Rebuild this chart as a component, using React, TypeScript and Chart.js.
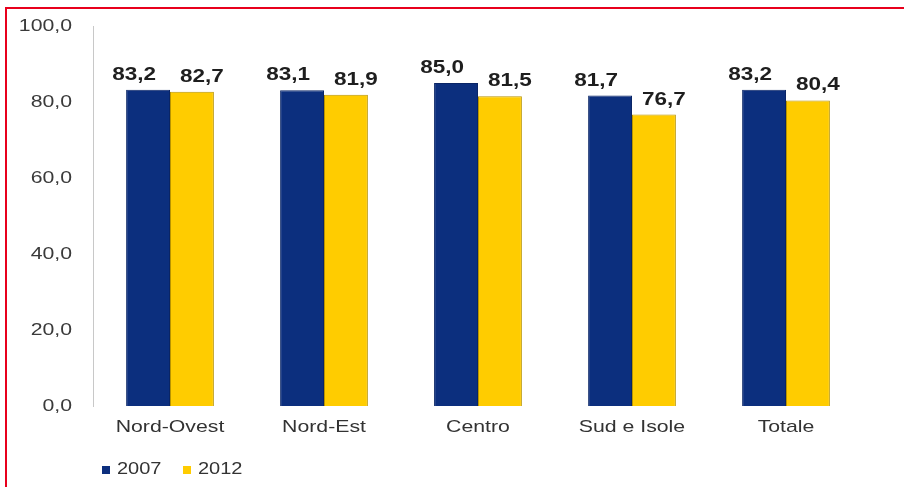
import React, { useEffect, useRef } from "react";
import { Chart, registerables } from "chart.js";

Chart.register(...registerables);

const categories = ["Nord-Ovest", "Nord-Est", "Centro", "Sud e Isole", "Totale"];
const series2007 = [83.2, 83.1, 85.0, 81.7, 83.2];
const series2012 = [82.7, 81.9, 81.5, 76.7, 80.4];
const seriesNames = ["2007", "2012"];
const yTicks = [0, 20, 40, 60, 80, 100];

const NAVY = "#0c2f7e";
const YELLOW = "#ffcc00";
const FONT = "'Liberation Sans', Arial, sans-serif";
const STRETCH = 1.25;

const fmt = (v: number) => v.toFixed(1).replace(".", ",");

function drawText(
  ctx: CanvasRenderingContext2D,
  text: string,
  x: number,
  y: number,
  font: string,
  color: string,
  align: "left" | "center" | "right"
) {
  ctx.save();
  ctx.font = font;
  ctx.fillStyle = color;
  ctx.textBaseline = "middle";
  ctx.textAlign = align;
  ctx.translate(x, y);
  ctx.scale(STRETCH, 1);
  ctx.fillText(text, 0, 0);
  ctx.restore();
}

const textPlugin = {
  id: "textLayer",
  afterDatasetsDraw(chart: any) {
    const ctx = chart.ctx;
    // value labels
    chart.data.datasets.forEach((ds: any, di: number) => {
      const meta = chart.getDatasetMeta(di);
      const dx = di === 0 ? -14 : 10;
      meta.data.forEach((el: any, i: number) => {
        drawText(ctx, fmt(ds.data[i]), el.x + dx, el.y - 15, `bold 18px ${FONT}`, "#1e1e1e", "center");
      });
    });
    // y tick labels
    const ys = chart.scales.y;
    yTicks.forEach((v) => {
      drawText(ctx, fmt(v), 72, ys.getPixelForValue(v), `17px ${FONT}`, "#3a3a3a", "right");
    });
    // x tick labels
    const xs = chart.scales.x;
    categories.forEach((c, i) => {
      drawText(ctx, c, xs.getPixelForTick(i), 427, `17px ${FONT}`, "#333", "center");
    });
    // legend
    const y = 470;
    const items = [
      { x: 102, color: NAVY, text: seriesNames[0] },
      { x: 183, color: YELLOW, text: seriesNames[1] },
    ];
    items.forEach((it) => {
      ctx.save();
      ctx.fillStyle = it.color;
      ctx.fillRect(it.x, y - 4, 8, 8);
      ctx.restore();
      drawText(ctx, it.text, it.x + 15, y, `16px ${FONT}`, "#333", "left");
    });
  },
};

export default function App() {
  const ref = useRef<HTMLCanvasElement>(null);
  useEffect(() => {
    if (!ref.current) return;
    const chart = new Chart(ref.current, {
      type: "bar",
      data: {
        labels: categories,
        datasets: [
          {
            label: seriesNames[0],
            data: series2007,
            backgroundColor: NAVY,
            borderColor: "#0a2566",
            borderWidth: 1,
            categoryPercentage: 0.57,
            barPercentage: 1,
          },
          {
            label: seriesNames[1],
            data: series2012,
            backgroundColor: YELLOW,
            borderColor: "#b89400",
            borderWidth: 1,
            categoryPercentage: 0.57,
            barPercentage: 1,
          },
        ],
      },
      options: {
        animation: false,
        responsive: false,
        maintainAspectRatio: false,
        layout: { padding: { top: 26, right: 41, left: 0, bottom: 0 } },
        plugins: {
          legend: { display: false },
          tooltip: { enabled: false },
        },
        scales: {
          x: {
            grid: { display: false, drawTicks: false },
            border: { display: false },
            ticks: { display: false },
            afterFit: (s: any) => {
              s.height = 81;
            },
          },
          y: {
            min: 0,
            max: 100,
            afterBuildTicks: (s: any) => {
              s.ticks = yTicks.map((v) => ({ value: v }));
            },
            grid: { display: false, drawTicks: false },
            border: { display: true, color: "#c8c8c8", width: 1 },
            ticks: { display: false },
            afterFit: (s: any) => {
              s.width = 93;
            },
          },
        },
      },
      plugins: [textPlugin],
    });
    return () => chart.destroy();
  }, []);
  return (
    <div style={{ position: "fixed", left: 0, top: 0, width: 904, height: 487, background: "#fff" }}>
      <canvas ref={ref} width={904} height={487} style={{ position: "absolute", left: 0, top: 0 }} />
      <div
        style={{
          position: "absolute",
          left: 5,
          top: 7,
          width: 899,
          height: 480,
          borderTop: "2px solid #e8001c",
          borderLeft: "2px solid #e8001c",
          boxSizing: "border-box",
          pointerEvents: "none",
        }}
      />
    </div>
  );
}
